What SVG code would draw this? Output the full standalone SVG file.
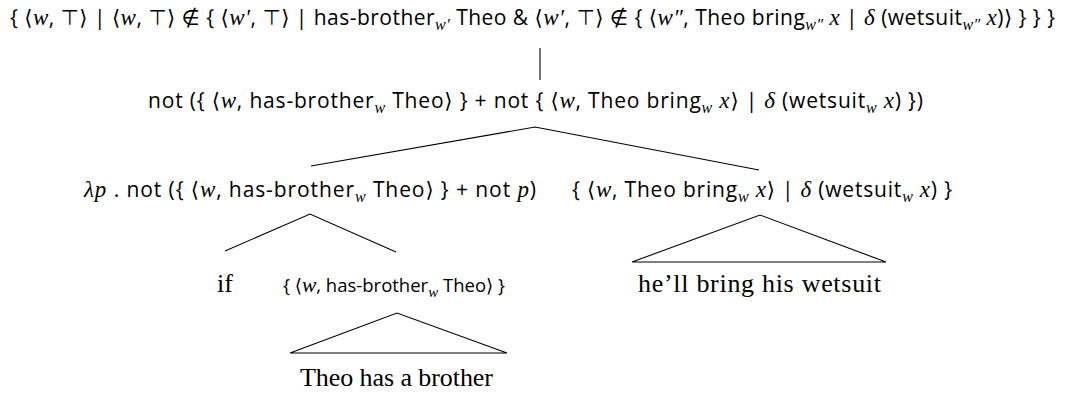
<svg xmlns="http://www.w3.org/2000/svg" width="1066" height="394" viewBox="0 0 1066 394">
<style>
.s{font-family:"Open Sans",Lato,"DejaVu Sans",sans-serif;font-size:21px;fill:#000}
.m{font-family:"Liberation Serif","DejaVu Serif",serif;font-style:italic;font-size:23px}
.sub{font-size:16px}
.sm{font-size:18.5px}
.sm .m{font-size:21.5px}
.sm .sub{font-size:15px}
.r{font-family:"Liberation Serif",serif;font-size:26px;fill:#000}
.e{stroke:#000;stroke-width:1.1;fill:none}
</style>
<rect width="1066" height="394" fill="#fff"/>
<g id="connectors">
<line class="e" x1="540" y1="48" x2="540" y2="80"/>
<polyline class="e" points="311,166 535,127 759,170"/>
<polyline class="e" points="225,251 310,214 396,252"/>
<polygon class="e" points="632,262 760,215 886,262"/>
<polygon class="e" points="290,353 397,313 507,353"/>
</g>
<g id="n-root">
<text class="s" x="10" y="25" textLength="1045" lengthAdjust="spacing">{ ⟨<tspan class="m">w</tspan>, ⊤⟩ | ⟨<tspan class="m">w</tspan>, ⊤⟩ ∉ { ⟨<tspan class="m">w′</tspan>, ⊤⟩ | has-brother<tspan class="m sub" dy="5">w′</tspan><tspan dy="-5"> Theo &amp; ⟨</tspan><tspan class="m">w′</tspan>, ⊤⟩ ∉ { ⟨<tspan class="m">w″</tspan>, Theo bring<tspan class="m sub" dy="5">w″</tspan><tspan dy="-5"> </tspan><tspan class="m">x</tspan> | <tspan class="m">δ</tspan> (wetsuit<tspan class="m sub" dy="5">w″</tspan><tspan dy="-5"> </tspan><tspan class="m">x</tspan>)⟩ } } }</text>
</g>
<g id="n-not">
<text class="s" x="148" y="108" textLength="775" lengthAdjust="spacing">not ({ ⟨<tspan class="m">w</tspan>, has-brother<tspan class="m sub" dy="5">w</tspan><tspan dy="-5"> Theo⟩ } + not { ⟨</tspan><tspan class="m">w</tspan>, Theo bring<tspan class="m sub" dy="5">w</tspan><tspan dy="-5"> </tspan><tspan class="m">x</tspan>⟩ | <tspan class="m">δ</tspan> (wetsuit<tspan class="m sub" dy="5">w</tspan><tspan dy="-5"> </tspan><tspan class="m">x</tspan>) })</text>
</g>
<g id="n-lambda">
<text class="s" x="84" y="197" textLength="452" lengthAdjust="spacing"><tspan class="m">λp</tspan> . not ({ ⟨<tspan class="m">w</tspan>, has-brother<tspan class="m sub" dy="5">w</tspan><tspan dy="-5"> Theo⟩ } + not </tspan><tspan class="m">p</tspan>)</text>
</g>
<g id="n-set">
<text class="s" x="572" y="197" textLength="380" lengthAdjust="spacing">{ ⟨<tspan class="m">w</tspan>, Theo bring<tspan class="m sub" dy="5">w</tspan><tspan dy="-5"> </tspan><tspan class="m">x</tspan>⟩ | <tspan class="m">δ</tspan> (wetsuit<tspan class="m sub" dy="5">w</tspan><tspan dy="-5"> </tspan><tspan class="m">x</tspan>) }</text>
</g>
<g id="n-if">
<text class="r" x="217" y="292">if</text>
</g>
<g id="n-brother">
<text class="s sm" x="394" y="292" text-anchor="middle">{ ⟨<tspan class="m">w</tspan>, has-brother<tspan class="m sub" dy="5">w</tspan><tspan dy="-5"> Theo⟩ }</tspan></text>
</g>
<g id="n-wetsuit">
<text class="r" x="638" y="292" textLength="243" lengthAdjust="spacing">he’ll bring his wetsuit</text>
</g>
<g id="n-theo">
<text class="r" x="300" y="386" textLength="193" lengthAdjust="spacing">Theo has a brother</text>
</g>
</svg>
